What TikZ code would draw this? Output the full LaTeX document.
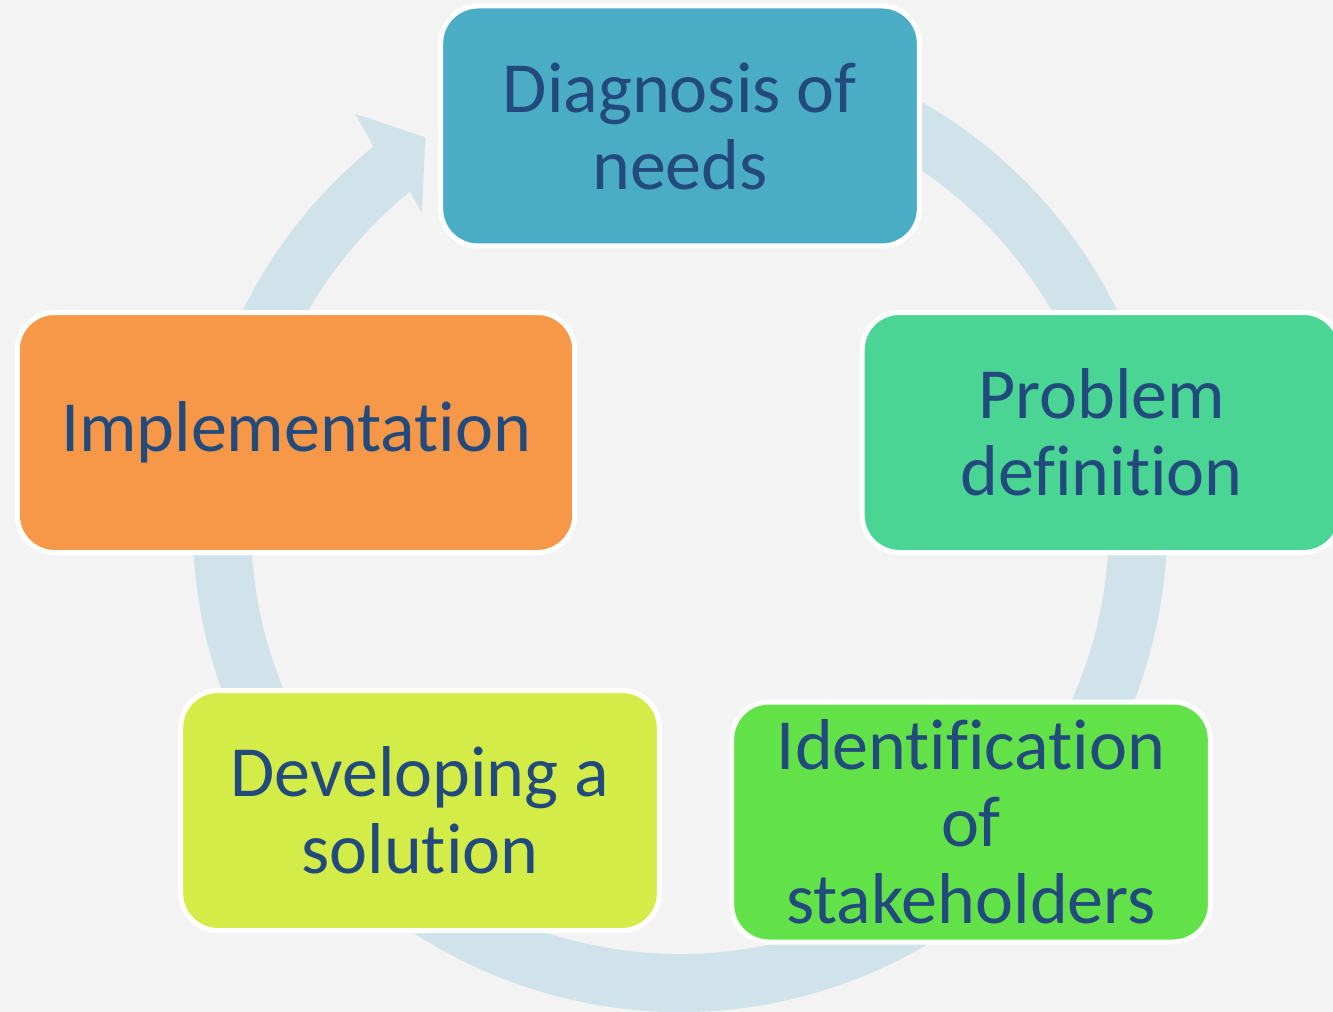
\documentclass[tikz,border=0pt]{standalone}
\usepackage{fontspec}
\setmainfont{Carlito}[Ligatures=NoCommon]
\usetikzlibrary{calc}

\definecolor{bgGray}{HTML}{F3F3F3}
\definecolor{ringBlue}{HTML}{D1E3EA}
\definecolor{textBlue}{HTML}{224A7D}
\definecolor{diagBlue}{HTML}{4BACC6}
\definecolor{probGreen}{HTML}{4AD594}
\definecolor{identGreen}{HTML}{62E248}
\definecolor{devYellow}{HTML}{D4EC48}
\definecolor{implOrange}{HTML}{F79748}

\begin{document}
\begin{tikzpicture}[x=0.75pt,y=0.75pt,yscale=-1,xscale=1,
  stage/.style={rounded corners=28pt, draw=white, line width=3.75pt, text=textBlue, align=center,
    font=\fontsize{54}{57.75}\selectfont, minimum width=359pt, minimum height=180pt, inner sep=0pt}]
\useasboundingbox (0,0) rectangle (1333,1012);
%Shape: Background
\fill [bgGray] (0,0) rectangle (1333,1012);

%Shape: Circular Arrow
\fill [ringBlue, shift={(680,525)}] (-75:487) arc[start angle=-75, end angle=231, radius=487] -- (231.7:524) -- (236.7:464) -- (230.4:405) -- (231:429) arc[start angle=231, end angle=-75, radius=429] -- cycle ;

% Stage Nodes
\node [stage, fill=diagBlue] (diag) at (680,126) {Diagnosis of\\needs};
\node [stage, fill=probGreen] (prob) at (1101.5,432.5) {Problem\\definition};
\node [stage, fill=identGreen] (ident) at (971,822) {Identification\\of\\stakeholders};
\node [stage, fill=devYellow] (dev) at (420,810.5) {Developing a\\solution};
\node [stage, fill=implOrange, minimum width=418pt] (impl) at (296,432.5) {Implementation};

\end{tikzpicture}
\end{document}
